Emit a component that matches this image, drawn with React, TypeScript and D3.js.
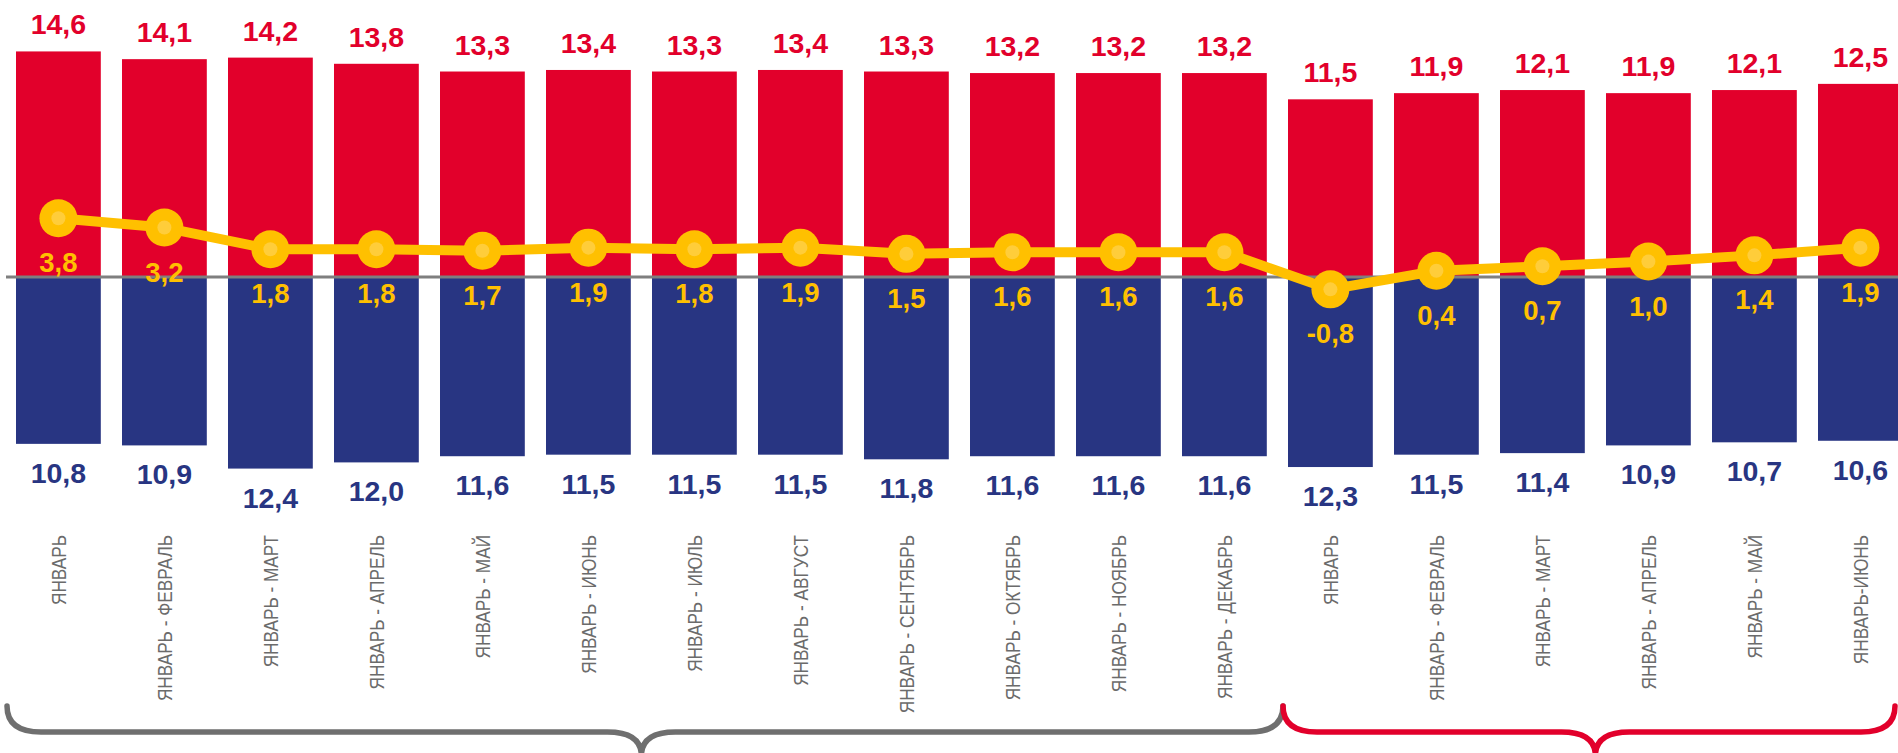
import * as d3 from "d3";

// Monthly cumulative periods, two years
const CATEGORIES = [
  "ЯНВАРЬ", "ЯНВАРЬ - ФЕВРАЛЬ", "ЯНВАРЬ - МАРТ", "ЯНВАРЬ - АПРЕЛЬ", "ЯНВАРЬ - МАЙ", "ЯНВАРЬ - ИЮНЬ",
  "ЯНВАРЬ - ИЮЛЬ", "ЯНВАРЬ - АВГУСТ", "ЯНВАРЬ - СЕНТЯБРЬ", "ЯНВАРЬ - ОКТЯБРЬ", "ЯНВАРЬ - НОЯБРЬ", "ЯНВАРЬ - ДЕКАБРЬ",
  "ЯНВАРЬ", "ЯНВАРЬ - ФЕВРАЛЬ", "ЯНВАРЬ - МАРТ", "ЯНВАРЬ - АПРЕЛЬ", "ЯНВАРЬ - МАЙ", "ЯНВАРЬ-ИЮНЬ",
];
const RED_VALUES = [14.6, 14.1, 14.2, 13.8, 13.3, 13.4, 13.3, 13.4, 13.3, 13.2, 13.2, 13.2, 11.5, 11.9, 12.1, 11.9, 12.1, 12.5];
const BLUE_VALUES = [10.8, 10.9, 12.4, 12.0, 11.6, 11.5, 11.5, 11.5, 11.8, 11.6, 11.6, 11.6, 12.3, 11.5, 11.4, 10.9, 10.7, 10.6];
const LINE_VALUES = [3.8, 3.2, 1.8, 1.8, 1.7, 1.9, 1.8, 1.9, 1.5, 1.6, 1.6, 1.6, -0.8, 0.4, 0.7, 1.0, 1.4, 1.9];
const GROUPS = [
  { from: 0, to: 11, color: "#6f6f6f" },
  { from: 12, to: 17, color: "#e2002b" },
];

const W = 1898;
const H = 753;
const RED = "#e2002b";
const BLUE = "#283582";
const YELLOW = "#ffc000";
const GREY = "#7f7f7f";
const LABEL_GREY = "#6b6b6b";
const FONT = "'Liberation Sans', Arial, sans-serif";

const fmt = (v: number) => v.toFixed(1).replace(".", ",");

export default function App() {
  const idx = CATEGORIES.map((_, i) => i);
  const x = d3.scaleBand<number>()
    .domain(idx)
    .range([5.4, 5.4 + 18 * 106])
    .paddingInner(0.2)
    .paddingOuter(0.1);
  const bw = x.bandwidth();
  const cx = (i: number) => (x(i) ?? 0) + bw / 2;

  const y = d3.scaleLinear().domain([-15, 15]).range([277 + 231.75, 277 - 231.75]);
  const y0 = y(0);

  const line = d3.line<number>()
    .x((_, i) => cx(i))
    .y((v) => y(v));

  // brace geometry
  const top = 706, bottom = 732, tip = 756, r = 34;
  const brace = (x0: number, x1: number, xm: number) =>
    `M${x0},${top} Q${x0},${bottom} ${x0 + r},${bottom} L${xm - r},${bottom} ` +
    `Q${xm},${bottom} ${xm},${tip} Q${xm},${bottom} ${xm + r},${bottom} ` +
    `L${x1 - r},${bottom} Q${x1},${bottom} ${x1},${top}`;

  return (
    <svg width={W} height={H} style={{ position: "absolute", left: 0, top: 0, background: "#fff" }}>
      {/* red bars (up) */}
      {RED_VALUES.map((v, i) => (
        <rect key={`r${i}`} x={x(i)} y={y(v)} width={bw} height={y0 - y(v)} fill={RED} />
      ))}
      {/* blue bars (down) */}
      {BLUE_VALUES.map((v, i) => (
        <rect key={`b${i}`} x={x(i)} y={y0} width={bw} height={y(-v) - y0} fill={BLUE} />
      ))}

      {/* zero line */}
      <line x1={6} x2={W} y1={y0} y2={y0} stroke={GREY} strokeWidth={3} />

      {/* red labels */}
      {RED_VALUES.map((v, i) => (
        <text key={`rl${i}`} x={cx(i)} y={y(v) - 17} textAnchor="middle"
          fontFamily={FONT} fontWeight={700} fontSize={28.5} fill={RED}>
          {fmt(v)}
        </text>
      ))}
      {/* blue labels */}
      {BLUE_VALUES.map((v, i) => (
        <text key={`bl${i}`} x={cx(i)} y={y(-v) + 39} textAnchor="middle"
          fontFamily={FONT} fontWeight={700} fontSize={28.5} fill={BLUE}>
          {fmt(v)}
        </text>
      ))}

      {/* yellow line */}
      <path d={line(LINE_VALUES) ?? ""} fill="none" stroke={YELLOW} strokeWidth={10} strokeLinejoin="round" />
      {LINE_VALUES.map((v, i) => (
        <g key={`p${i}`}>
          <circle cx={cx(i)} cy={y(v)} r={19} fill={YELLOW} />
          <circle cx={cx(i)} cy={y(v)} r={7} fill="#ffcd3a" />
        </g>
      ))}
      {LINE_VALUES.map((v, i) => (
        <text key={`pl${i}`} x={cx(i)} y={y(v) + 54} textAnchor="middle"
          fontFamily={FONT} fontWeight={700} fontSize={27.5} fill={YELLOW}>
          {fmt(v)}
        </text>
      ))}

      {/* category labels */}
      {CATEGORIES.map((c, i) => (
        <text key={`c${i}`} transform={`translate(${cx(i) + 7.5},535) rotate(-90) scale(0.82,1)`}
          textAnchor="end" fontFamily={FONT} fontSize={21} fill={LABEL_GREY}>
          {c}
        </text>
      ))}

      {/* period braces */}
      {GROUPS.map((g, k) => {
        const left = k === 0 ? (x(g.from) ?? 0) - 9 : (x(g.from) ?? 0) - 5;
        const right = k === 0 ? (x(g.to + 1) ?? 0) - 5 : W - 3;
        const mid = ((x(g.from) ?? 0) + (x(g.to) ?? 0) + bw) / 2;
        return (
          <path key={`g${k}`} d={brace(left, right, mid)} fill="none" stroke={g.color}
            strokeWidth={5.5} strokeLinecap="round" />
        );
      })}
    </svg>
  );
}
